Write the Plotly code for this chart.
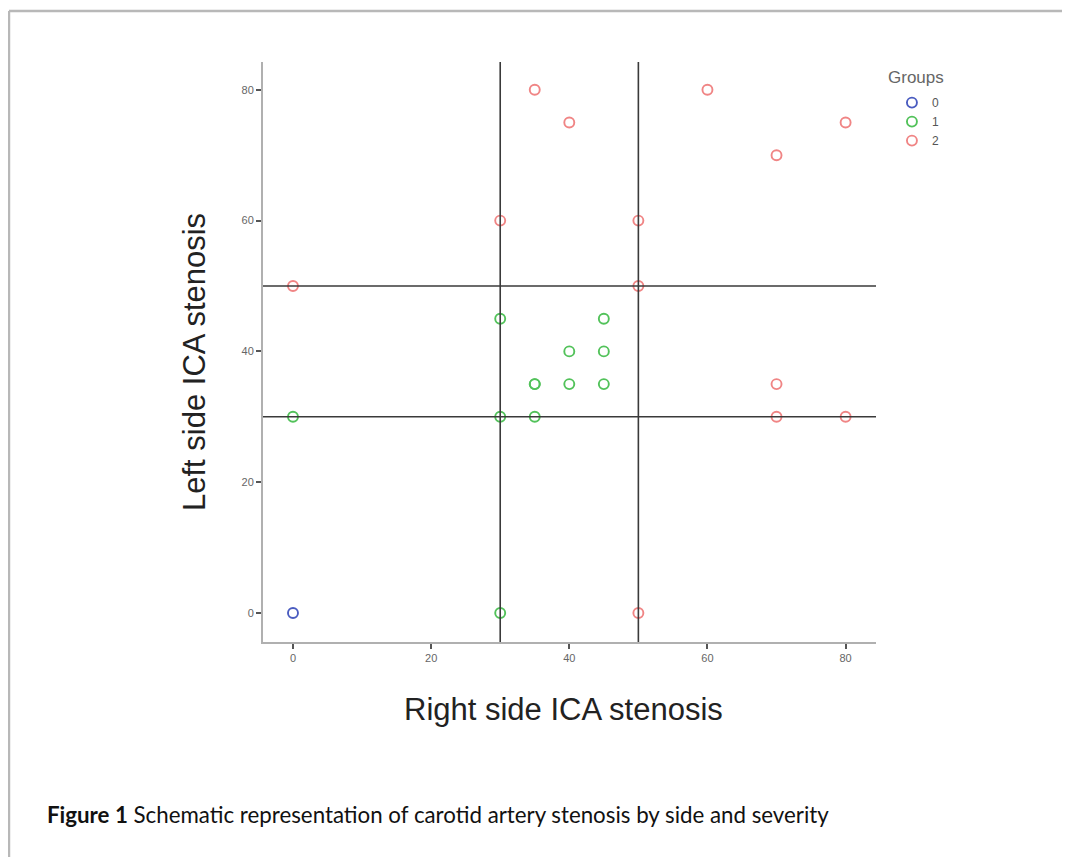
import plotly.graph_objects as go

# ---- data ----
group_names = ["0", "1", "2"]
g0_right = [0]
g0_left = [0]
g1_right = [0, 30, 30, 30, 35, 35, 35, 40, 40, 45, 45, 45]
g1_left = [30, 0, 30, 45, 35, 35, 30, 40, 35, 45, 40, 35]
g2_right = [35, 40, 60, 80, 70, 30, 50, 0, 50, 70, 70, 80, 50]
g2_left = [80, 75, 80, 75, 70, 60, 60, 50, 50, 35, 30, 30, 0]
cutoffs = [30, 50]
tick_vals = [0, 20, 40, 60, 80]

colors = ["#4a5cc0", "#52c25a", "#f08585"]

fig = go.Figure()
for name, xs, ys, c in zip(group_names,
                           [g0_right, g1_right, g2_right],
                           [g0_left, g1_left, g2_left], colors):
    fig.add_trace(go.Scatter(
        x=xs, y=ys, mode="markers", name=name,
        marker=dict(symbol="circle-open", size=10, color=c,
                    line=dict(width=1.9, color=c)),
    ))

for v in cutoffs:
    fig.add_shape(type="line", xref="x", yref="paper", x0=v, x1=v, y0=0, y1=1,
                  line=dict(color="#3a3a3a", width=1.6), layer="above")
    fig.add_shape(type="line", xref="paper", yref="y", x0=0, x1=1, y0=v, y1=v,
                  line=dict(color="#3a3a3a", width=1.6), layer="above")

# page frame (gray border at top and left)
fig.add_shape(type="line", xref="paper", yref="paper",
              x0=-0.4144, x1=1.4, y0=1.0879, y1=1.0879,
              line=dict(color="#b8b8b8", width=2.5))
fig.add_shape(type="line", xref="paper", yref="paper",
              x0=-0.4144, x1=-0.4144, y0=1.0879, y1=-0.40,
              line=dict(color="#b8b8b8", width=2.5))

fig.add_annotation(
    xref="paper", yref="paper", x=-0.3557, y=-0.2966, xanchor="left", yanchor="middle",
    text="<b>Figure 1</b> Schematic representation of carotid artery stenosis by side and severity",
    showarrow=False, font=dict(family="Lato, Open Sans, sans-serif", size=22.3, color="#111111"))

# axis titles
fig.add_annotation(
    xref="paper", yref="paper", x=0.4894, y=-0.1172, xanchor="center", yanchor="middle",
    text="Right side ICA stenosis", showarrow=False,
    font=dict(family="Liberation Sans, Arial", size=31, color="#222222"))
fig.add_annotation(
    xref="paper", yref="paper", x=-0.1109, y=0.4828, xanchor="center", yanchor="middle",
    text="Left side ICA stenosis", showarrow=False, textangle=-90,
    font=dict(family="Liberation Sans, Arial", size=31, color="#222222"))

# legend title
fig.add_annotation(
    xref="paper", yref="paper", x=1.0653, y=0.9741, xanchor="center", yanchor="middle",
    text="Groups", showarrow=False,
    font=dict(family="Liberation Sans, Arial", size=17, color="#666666"))

axis_common = dict(
    showgrid=False, zeroline=False, showline=True, linecolor="#b0b0b0", linewidth=2,
    ticks="outside", ticklen=5, tickwidth=1.5, tickcolor="#555555",
    tickvals=tick_vals, tickfont=dict(family="Liberation Sans, Arial", size=11, color="#666666"),
    mirror=False, title=dict(text=""),
)

fig.update_layout(
    width=1062, height=849,
    margin=dict(l=255, r=194, t=54, b=215),
    paper_bgcolor="white", plot_bgcolor="white",
    xaxis=dict(range=[-4.34, 84.4], **axis_common),
    yaxis=dict(range=[-4.43, 84.25], **axis_common),
    legend=dict(x=1.026, y=0.955, xanchor="left", yanchor="top",
                font=dict(family="Liberation Sans, Arial", size=12, color="#555555"),
                itemwidth=30, tracegroupgap=0, bgcolor="rgba(0,0,0,0)"),
    showlegend=True,
)

fig.write_html("out.html")
